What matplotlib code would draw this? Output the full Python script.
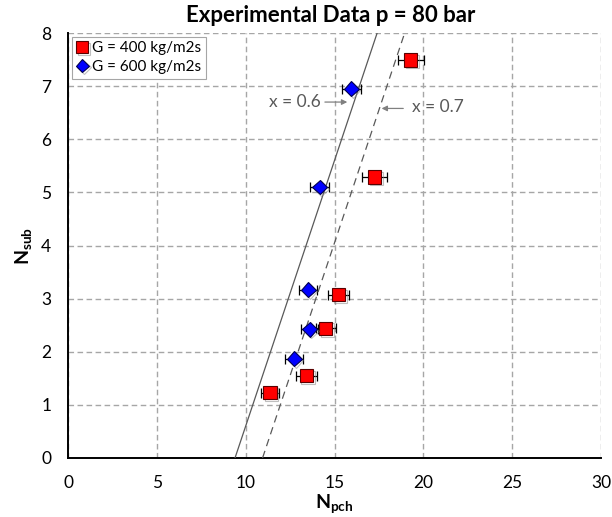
import matplotlib
matplotlib.use("Agg")
import matplotlib.pyplot as plt
import matplotlib.patheffects as pe

plt.rcParams['font.family'] = ['Lato', 'DejaVu Sans']
plt.rcParams['mathtext.fontset'] = 'custom'
plt.rcParams['mathtext.rm'] = 'Lato'
plt.rcParams['mathtext.bf'] = 'Lato:bold'
plt.rcParams['mathtext.it'] = 'Lato:italic'

# ---- data ----
g400_npch = [11.37, 13.42, 14.51, 15.24, 17.25, 19.30]
g400_nsub = [1.23, 1.55, 2.44, 3.075, 5.29, 7.49]
g400_err = [0.52, 0.59, 0.56, 0.60, 0.68, 0.72]

g600_npch = [12.73, 13.61, 13.52, 14.16, 15.95]
g600_nsub = [1.87, 2.42, 3.17, 5.10, 6.955]
g600_err = [0.50, 0.47, 0.49, 0.53, 0.53]

line_nsub = [0, 8]
x06_npch = [9.40, 17.40]
x07_npch = [10.95, 18.95]

x_ticks = [0, 5, 10, 15, 20, 25, 30]
y_ticks = [0, 1, 2, 3, 4, 5, 6, 7, 8]

title = "Experimental Data p = 80 bar"
label_400 = "G = 400 kg/m2s"
label_600 = "G = 600 kg/m2s"
label_x06 = "x = 0.6"
label_x07 = "x = 0.7"

# ---- figure ----
fig = plt.figure(figsize=(6.12, 5.17), dpi=100)
ax = fig.add_axes([68/612, 1 - 458/517, (601-68)/612, (458-33)/517])

ax.set_xlim(0, 30)
ax.set_ylim(0, 8)
ax.set_xticks(x_ticks)
ax.set_yticks(y_ticks)
ax.tick_params(length=0, labelsize=12.5, pad=12, colors='#000000')

ax.grid(True, color='#a6a6a6', linestyle=(0, (4, 2.5)), linewidth=1.0)
ax.set_axisbelow(True)
for s in ['top', 'right']:
    ax.spines[s].set_visible(False)
for s in ['left', 'bottom']:
    ax.spines[s].set_linewidth(1.4)
    ax.spines[s].set_color('black')

# quality lines
ax.plot(x06_npch, line_nsub, color='#595959', linewidth=0.9, linestyle='-', zorder=3)
ax.plot(x07_npch, line_nsub, color='#595959', linewidth=0.9, linestyle=(0, (6, 4)), zorder=3)

shadow = [pe.SimpleLineShadow(offset=(1.2, -1.2), shadow_color='gray', alpha=0.5), pe.Normal()]

ax.errorbar(g400_npch, g400_nsub, xerr=g400_err, fmt='none', ecolor='black',
            elinewidth=0.9, capsize=3.5, capthick=0.9, zorder=4)
ax.errorbar(g600_npch, g600_nsub, xerr=g600_err, fmt='none', ecolor='black',
            elinewidth=0.9, capsize=3.5, capthick=0.9, zorder=4)

ax.plot(g400_npch, g400_nsub, linestyle='none', marker='s', markersize=9.5,
        markerfacecolor='#ff0000', markeredgecolor='#5a0000', markeredgewidth=0.8,
        zorder=5, path_effects=shadow, label=label_400)
ax.plot(g600_npch, g600_nsub, linestyle='none', marker='D', markersize=7.5,
        markerfacecolor='#0000ff', markeredgecolor='#000050', markeredgewidth=0.8,
        zorder=5, path_effects=shadow, label=label_600)

leg = ax.legend(loc='upper left', bbox_to_anchor=(0.007, 0.991), fontsize=11,
                frameon=True, fancybox=False, edgecolor='#a6a6a6', framealpha=1,
                handlelength=0.8, handletextpad=0.25, borderpad=0.3,
                labelspacing=0.3, borderaxespad=0.0, markerscale=0.9)
leg.get_frame().set_linewidth(0.8)

# annotations
arrow_kw = dict(arrowstyle='-|>', color='#808080', lw=0.9, mutation_scale=8,
                shrinkA=0, shrinkB=0)
ax.text(14.25, 6.70, label_x06, fontsize=12.5, color='#595959', va='center', ha='right')
ax.annotate("", xy=(15.72, 6.70), xytext=(14.46, 6.70), arrowprops=arrow_kw)
ax.annotate("", xy=(17.65, 6.58), xytext=(18.87, 6.58), arrowprops=arrow_kw)
ax.text(19.36, 6.60, label_x07, fontsize=12.5, color='#595959', va='center', ha='left')

ax.set_xlabel(r'$\mathbf{N}_{\mathbf{pch}}$', fontsize=14, labelpad=1)
ax.set_ylabel(r'$\mathbf{N}_{\mathbf{sub}}$', fontsize=14, labelpad=5)

fig.text(0.541, 1 - 15/517, title, fontsize=16, fontweight='bold', ha='center', va='center')

fig.savefig('out.png', dpi=100)
